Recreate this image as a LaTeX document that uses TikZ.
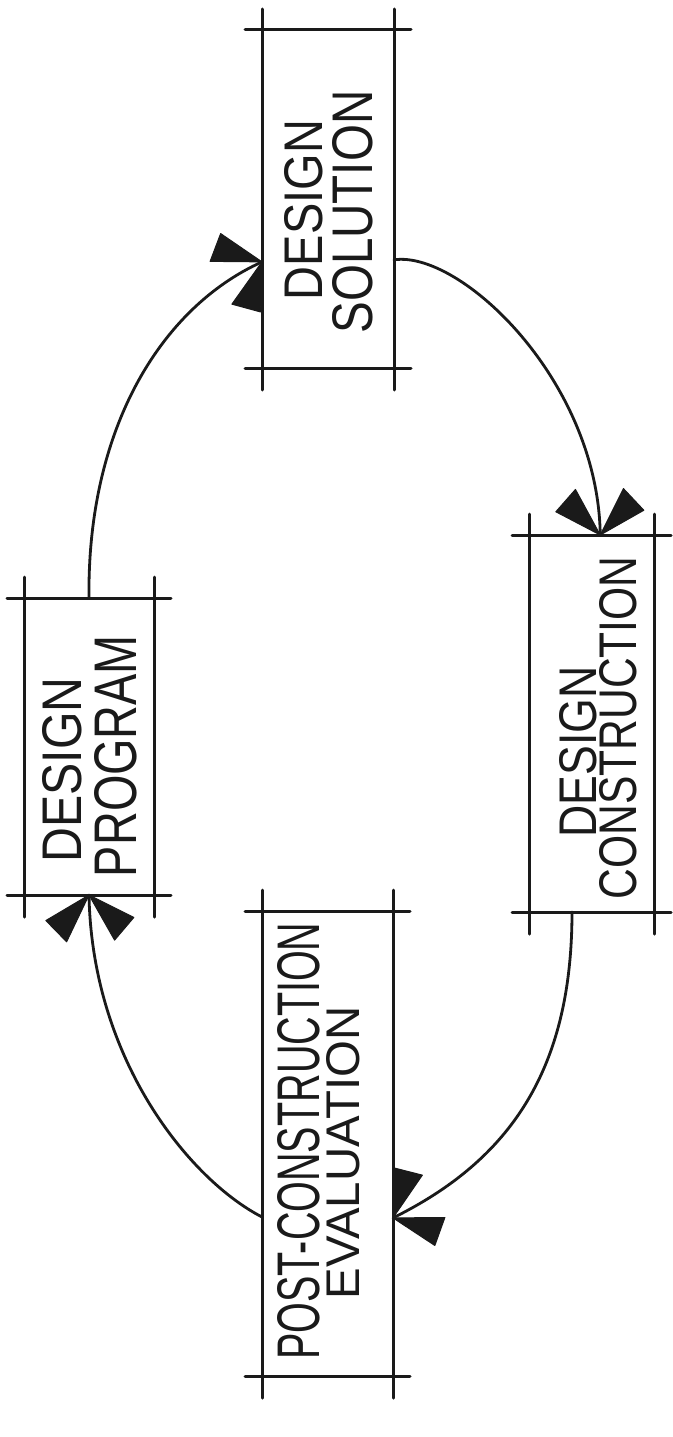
\documentclass[tikz,border=0pt]{standalone}
\usepackage{fontspec}
\setmainfont{Liberation Sans}
\usepackage{graphicx}
\usetikzlibrary{calc}
\definecolor{ink}{HTML}{1A1A1A}
\tikzset{
  box/.style={rectangle, inner sep=0pt, outer sep=0pt, draw=none},
  frame/.style={draw=ink, line width=3pt, line cap=round},
  lbl/.style={inner sep=0pt, outer sep=0pt, rotate=90, text=ink},
  flow/.style={draw=ink, line width=2.8pt, line cap=round},
  barbs/.pic={
    \filldraw[ink, line width=1pt, line join=round] (0pt,0pt) -- (-46pt,24pt) -- (-24pt,44pt) -- cycle;
    \filldraw[ink, line width=1pt, line join=round] (0pt,0pt) -- (-46pt,-24pt) -- (-24pt,-44pt) -- cycle;
  }
}
\newcommand\fitlbl[3]{\resizebox{#1pt}{#2pt}{#3}}
\begin{document}
\begin{tikzpicture}[x=1pt,y=-1pt]
\fill[white] (0,0) rectangle (672,1437);
\useasboundingbox (0,0) rectangle (672,1437);

% boxes
\node[box, minimum width=132pt, minimum height=338pt] (ds)  at (328,199)    {};
\node[box, minimum width=130pt, minimum height=297pt] (dp)  at (89,746.5)   {};
\node[box, minimum width=125pt, minimum height=377pt] (dc)  at (591.5,723.5) {};
\node[box, minimum width=131pt, minimum height=465pt] (pce) at (327.5,1143.5) {};

\foreach \b in {ds,dp,dc,pce}{
  \draw[frame] ([xshift=-17pt]\b.north west) -- ([xshift=17pt]\b.north east);
  \draw[frame] ([xshift=-17pt]\b.south west) -- ([xshift=17pt]\b.south east);
  \draw[frame] ([yshift=21pt]\b.north west) -- ([yshift=-22pt]\b.south west);
  \draw[frame] ([yshift=21pt]\b.north east) -- ([yshift=-22pt]\b.south east);
}

% labels
\node[lbl] (ds1)  at (304,210)  {\fitlbl{180}{38}{DESIGN}};
\node[lbl] (ds2)  at (353,212)  {\fitlbl{243}{40}{SOLUTION}};
\node[lbl] (dp1)  at (62,770)   {\fitlbl{185}{39}{DESIGN}};
\node[lbl] (dp2)  at (116,756)  {\fitlbl{242}{42}{PROGRAM}};
\node[lbl] (dc1)  at (578,752)  {\fitlbl{171}{37}{DESIGN}};
\node[lbl] (dc2)  at (618,728)  {\fitlbl{343}{37}{CONSTRUCTION}};
\node[lbl] (pce1) at (299,1141) {\fitlbl{437}{42}{POST-CONSTRUCTION}};
\node[lbl] (pce2) at (343,1153) {\fitlbl{293}{33}{EVALUATION}};

% connector end points
\coordinate (a1) at (dp.north);
\coordinate (t1) at ($(ds.north west)!0.686!(ds.south west)$);
\coordinate (a2) at ($(ds.north east)!0.68!(ds.south east)$);
\coordinate (t2) at ($(dc.north west)!0.57!(dc.north east)$);
\coordinate (a3) at ($(dc.south west)!0.344!(dc.south east)$);
\coordinate (t3) at ($(pce.north east)!0.66!(pce.south east)$);
\coordinate (a4) at ($(pce.north west)!0.658!(pce.south west)$);
\coordinate (t4) at (dp.south);

% connectors
\draw[flow] (a1) .. controls (87,430) and (160,308) .. (t1);
\draw[flow] (a2) .. controls (460,250) and (598,380) .. (t2);
\draw[flow] (a3) .. controls (572,1070) and (510,1160) .. (t3);
\draw[flow] (a4) .. controls (190,1180) and (92,1060) .. (t4);

% arrowheads
\pic[rotate=27] at (t1) {barbs};
\pic[rotate=-89] at (t2) {barbs};
\pic[rotate=208] at (t3) {barbs};
\pic[rotate=92] at (t4) {barbs};
\end{tikzpicture}
\end{document}
